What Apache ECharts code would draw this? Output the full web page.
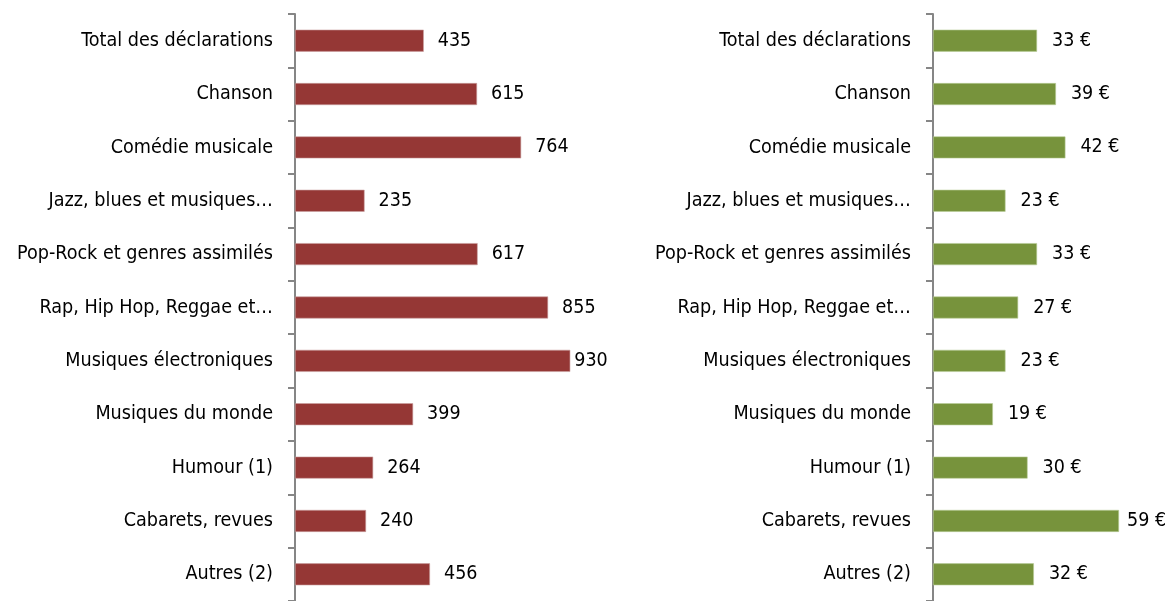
<!DOCTYPE html>
<html><head><meta charset="utf-8">
<script src="https://cdn.jsdelivr.net/npm/echarts@6/dist/echarts.min.js"></script>
<style>html,body{margin:0;padding:0;background:#fff}#c{width:1174px;height:601px}</style>
</head><body><div id="c"></div>
<script>
const categories = ["Total des déclarations","Chanson","Comédie musicale","Jazz, blues et musiques…","Pop-Rock et genres assimilés","Rap, Hip Hop, Reggae et…","Musiques électroniques","Musiques du monde","Humour (1)","Cabarets, revues","Autres (2)"];
const leftValues = [435,615,764,235,617,855,930,399,264,240,456];
const rightValues = [33,39,42,23,33,27,23,19,30,59,32];

const FONT = '"DejaVu Sans Condensed", "Liberation Sans Narrow", "Arial Narrow", sans-serif';
const axisColor = '#868686';
function yAx(gridIndex){
  return {type:'category', gridIndex, data:categories, inverse:true,
    axisLine:{show:true, lineStyle:{color:axisColor, width:2}},
    axisTick:{show:true, length:7, lineStyle:{color:axisColor, width:2}},
    axisLabel:{color:'#000', fontFamily:FONT, fontSize:19.6, margin:22},
    splitLine:{show:false}};
}
function xAx(gridIndex,max){
  return {type:'value', gridIndex, min:0, max, show:false, splitLine:{show:false}};
}
function mkData(vals, gapSpecial){
  const mx = Math.max(...vals);
  return vals.map(v => v===mx ? {value:v, label:{distance:gapSpecial}} : v);
}
const chart = echarts.init(document.getElementById('c'));
chart.setOption({
  animation:false,
  grid:[
    {left:295, top:14, width:296, height:592, containLabel:false},
    {left:933, top:14, width:220.7, height:592, containLabel:false}
  ],
  xAxis:[xAx(0,1000), xAx(1,70)],
  yAxis:[yAx(0), yAx(1)],
  series:[
    {type:'bar', xAxisIndex:0, yAxisIndex:0, data:mkData(leftValues,4), barWidth:22,
     itemStyle:{color:'#953735', borderColor:'#c9a09f', borderWidth:0.6},
     label:{show:true, position:'right', distance:14, color:'#000', fontFamily:FONT, fontSize:19.5}},
    {type:'bar', xAxisIndex:1, yAxisIndex:1, data:mkData(rightValues,8), barWidth:22,
     itemStyle:{color:'#77933C', borderColor:'#b9cc98', borderWidth:0.6},
     label:{show:true, position:'right', distance:15, color:'#000', fontFamily:FONT, fontSize:19.5,
       formatter: p => p.value + ' €'}}
  ]
});
</script></body></html>
